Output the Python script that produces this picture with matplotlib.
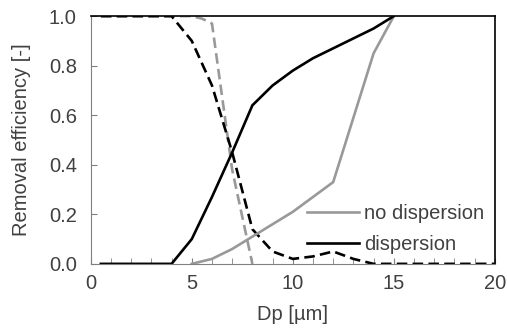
import matplotlib
matplotlib.use("Agg")
import matplotlib.pyplot as plt

plt.rcParams['font.family'] = ['Liberation Sans', 'DejaVu Sans']

# removal efficiency vs particle diameter
dp_nd = [5, 6, 7, 8, 9, 10, 11, 12, 13, 14, 15]
eff_nd = [0.0, 0.02, 0.06, 0.11, 0.16, 0.21, 0.27, 0.33, 0.59, 0.85, 1.0]

dp_d = [0.5, 1, 2, 3, 4, 5, 6, 7, 8, 9, 10, 11, 12, 13, 14, 15]
eff_d = [0.0, 0.0, 0.0, 0.0, 0.0, 0.1, 0.27, 0.45, 0.64, 0.72, 0.78, 0.83, 0.87, 0.91, 0.95, 1.0]

# dashed curves (no labels in legend)
dp_nd2 = [0.5, 1, 2, 3, 4, 5, 5.5, 6, 7, 8]
eff_nd2 = [1.0, 1.0, 1.0, 1.0, 1.0, 1.0, 0.99, 0.97, 0.38, 0.0]

dp_d2 = [0.5, 1, 2, 3, 4, 5, 6, 7, 8, 9, 10, 11, 12, 13, 14, 15, 16, 17, 18, 19, 20]
eff_d2 = [1.0, 1.0, 1.0, 1.0, 1.0, 0.9, 0.72, 0.45, 0.14, 0.05, 0.02, 0.03, 0.05, 0.02, 0.0,
          0.0, 0.0, 0.0, 0.0, 0.0, 0.0]

gray = '#999999'
txt = '#404040'
fs = 14.5

fig = plt.figure(figsize=(5.07, 3.29), dpi=100)
ax = fig.add_axes([0.179, 0.198, 0.797, 0.753])

ax.plot(dp_nd2, eff_nd2, color=gray, lw=1.9, dashes=(4, 2))
ax.plot(dp_d2, eff_d2, color='black', lw=1.9, dashes=(4, 2))
ax.plot(dp_nd, eff_nd, color=gray, lw=1.9, label='no dispersion')
ax.plot(dp_d, eff_d, color='black', lw=1.9, label='dispersion')

ax.set_xlim(0, 20)
ax.set_ylim(0, 1.0)
ax.set_xticks([0, 5, 10, 15, 20])
ax.set_xticks(range(0, 21), minor=True)
ax.set_yticks([0, 0.2, 0.4, 0.6, 0.8, 1.0])
ax.set_yticklabels(['0.0', '0.2', '0.4', '0.6', '0.8', '1.0'])

ax.tick_params(axis='both', which='both', direction='in', colors='#808080',
               labelcolor=txt, labelsize=fs)
ax.tick_params(axis='both', which='major', length=4)
ax.tick_params(axis='x', which='major', pad=7)
ax.tick_params(axis='y', which='major', pad=10)
ax.tick_params(axis='x', which='minor', length=4)
for s in ['left', 'bottom']:
    ax.spines[s].set_color('#808080')
for s in ['top', 'right']:
    ax.spines[s].set_color('black')
    ax.spines[s].set_linewidth(1.2)

ax.set_xlabel('Dp [µm]', fontsize=fs, color=txt, labelpad=9)
ax.set_ylabel('Removal efficiency [-]', fontsize=fs, color=txt, labelpad=13)

ax.legend(loc='lower left', bbox_to_anchor=(0.49, -0.035), frameon=False,
          fontsize=fs, handlelength=2.6, handletextpad=0.25, labelspacing=0.6,
          labelcolor=txt)

fig.savefig('out.png', dpi=100)
